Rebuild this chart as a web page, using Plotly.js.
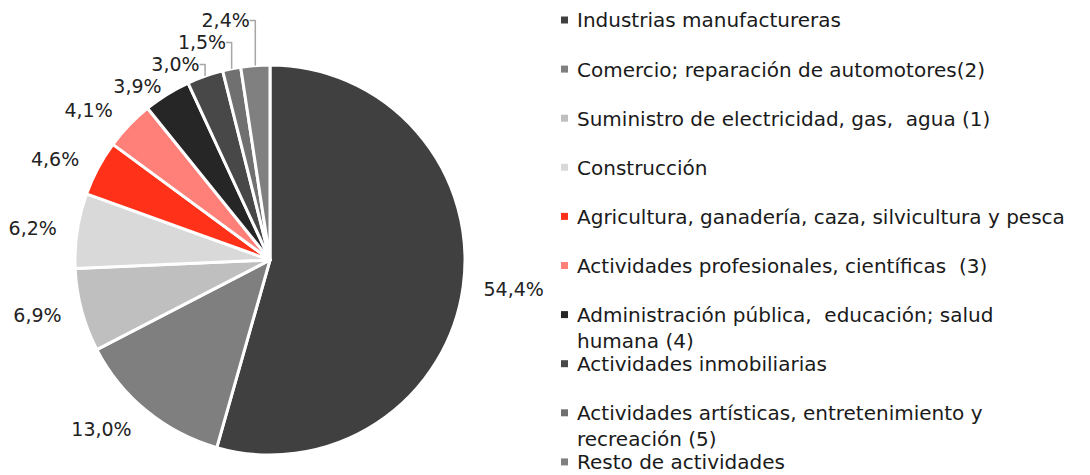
<!DOCTYPE html>
<html>
<head>
<meta charset="utf-8">
<script src="https://cdn.plot.ly/plotly-3.0.1.min.js"></script>
<style>
html,body{margin:0;padding:0;background:#fff;}
#chart{width:1090px;height:475px;}
path.textline{stroke:#a6a6a6 !important; stroke-width:1.5px !important;}
</style>
</head>
<body>
<div id="chart"></div>
<script>
const labels = [
  "Industrias manufactureras",
  "Comercio; reparación de automotores(2)",
  "Suministro de electricidad, gas,  agua (1)",
  "Construcción",
  "Agricultura, ganadería, caza, silvicultura y pesca",
  "Actividades profesionales, científicas  (3)",
  "Administración pública,  educación; salud<br>humana (4)",
  "Actividades inmobiliarias",
  "Actividades artísticas, entretenimiento y<br>recreación (5)",
  "Resto de actividades"
];
const values = [54.4, 13.0, 6.9, 6.2, 4.6, 4.1, 3.9, 3.0, 1.5, 2.4];
const colors = ["#404040", "#7f7f7f", "#bfbfbf", "#d9d9d9", "#ff3219", "#ff8079", "#262626", "#484848", "#707070", "#808080"];

const W = 1090, H = 475;
const FONT = "DejaVu Sans";
const SMALL = 4; // slices below this share get labels with leader lines

// the visible pie
const pie = {
  type: "pie",
  labels: labels,
  values: values,
  sort: false,
  direction: "clockwise",
  rotation: 0,
  marker: {colors: colors, line: {color: "#ffffff", width: 3}},
  textinfo: "none",
  showlegend: false,
  hoverinfo: "label+percent",
  domain: {x: [75 / W, 465 / W], y: [20 / H, 410 / H]}
};

function labelPie(domain, positions) {
  return {
    type: "pie",
    labels: labels,
    values: values,
    sort: false,
    direction: "clockwise",
    rotation: 0,
    marker: {colors: values.map(() => "rgba(0,0,0,0)"), line: {width: 0}},
    textposition: positions,
    texttemplate: "%{percent:.1%}",
    outsidetextfont: {family: FONT, size: 19, color: "#222222"},
    showlegend: false,
    hoverinfo: "skip",
    domain: domain
  };
}
// labels of the larger slices, a bit away from the pie
const bigLabels = labelPie({x: [60 / W, 480 / W], y: [5 / H, 425 / H]},
  values.map(v => v >= SMALL ? "outside" : "none"));
// labels of the small top slices, leader lines start at the pie edge
const smallLabels = labelPie({x: [75 / W, 465 / W], y: [20 / H, 410 / H]},
  values.map(v => v < SMALL ? "outside" : "none"));

// legend drawn from labels/colors
const annotations = [];
const shapes = [];
const top0 = 20, step = 49.1, FS = 20;
labels.forEach((lab, i) => {
  const yc = top0 + i * step;
  annotations.push({
    xref: "paper", yref: "paper",
    x: 575 / W, y: 1 - (yc - 0.68 * FS) / H,
    xanchor: "left", yanchor: "top",
    align: "left",
    text: lab,
    showarrow: false,
    font: {family: FONT, size: FS, color: "#1a1a1a"}
  });
  shapes.push({
    type: "rect", xref: "paper", yref: "paper",
    x0: 561 / W, x1: 568 / W,
    y0: 1 - (yc + 3.5) / H, y1: 1 - (yc - 3.5) / H,
    fillcolor: colors[i], line: {width: 0}
  });
});

const layout = {
  width: W, height: H,
  margin: {l: 0, r: 0, t: 0, b: 0},
  paper_bgcolor: "#ffffff",
  separators: ",.",
  font: {family: FONT},
  annotations: annotations,
  shapes: shapes
};

Plotly.newPlot("chart", [pie, bigLabels, smallLabels], layout, {displayModeBar: false, staticPlot: true});
</script>
</body>
</html>
